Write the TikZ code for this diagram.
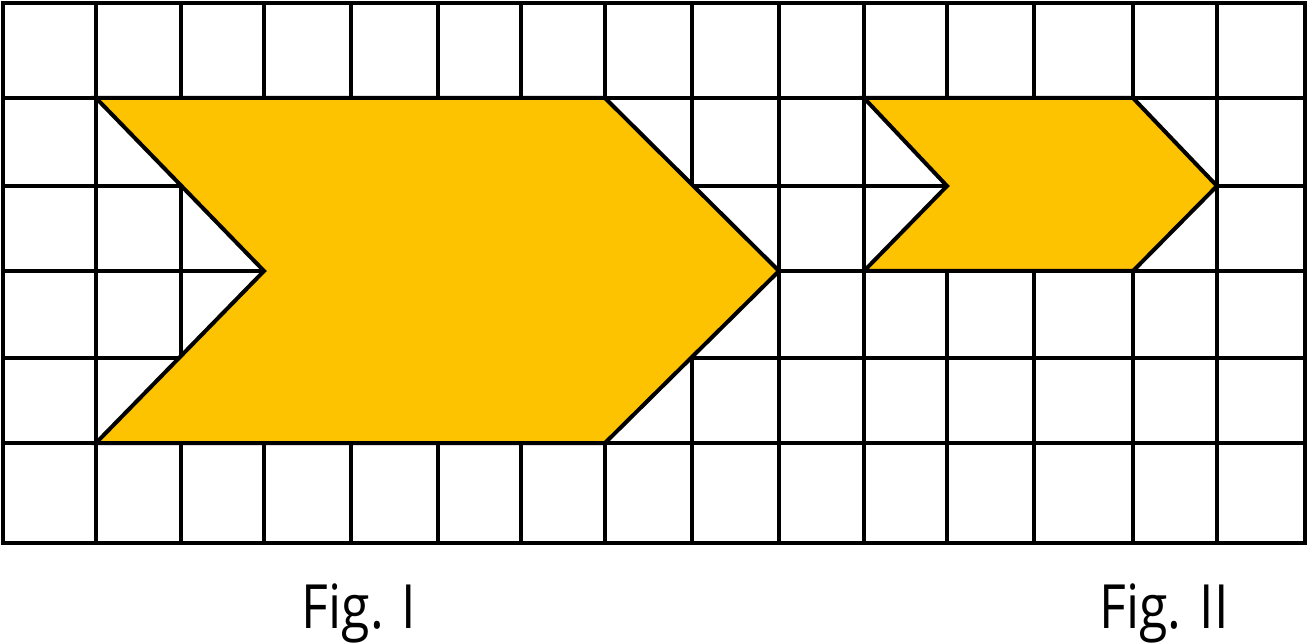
\documentclass[tikz,border=0pt]{standalone}
\usepackage{fontspec}
\setmainfont{Open Sans}
\definecolor{shapeorange}{RGB}{253,194,0}
\newcommand{\narrowtext}[1]{\scalebox{0.85}[1]{#1}}
\begin{document}
\begin{tikzpicture}[x=1pt,y=-1pt,
  gridline/.style={line width=4pt,black},
  figshape/.style={fill=shapeorange,draw=black,line width=4pt,line join=miter},
  figlabel/.style={anchor=base,font=\fontsize{61}{61}\selectfont,inner sep=0pt}]
\useasboundingbox (0,0) rectangle (1307,644);
% grid lines (vertical)
\foreach \x in {96,181,264,351,438,521,605,692,779,864,947,1034,1133,1217}
  \draw[gridline] (\x,3) -- (\x,543);
% horizontal
\foreach \y in {98,186,271,358,443}
  \draw[gridline] (3,\y) -- (1305,\y);
\draw[gridline] (3,3) rectangle (1305,543);
% filled shapes over the grid
\draw[figshape] (96,98) -- (605,98) -- (779,271) -- (605,443) -- (96,443) -- (264,271) -- cycle;
\draw[figshape] (864,98) -- (1133,98) -- (1217,186) -- (1133,271) -- (864,271) -- (947,186) -- cycle;
\node[figlabel] (l1) at (359,628) {\narrowtext{Fig. I}};
\node[figlabel] (l2) at (1164,628) {\narrowtext{Fig. II}};
\end{tikzpicture}
\end{document}
